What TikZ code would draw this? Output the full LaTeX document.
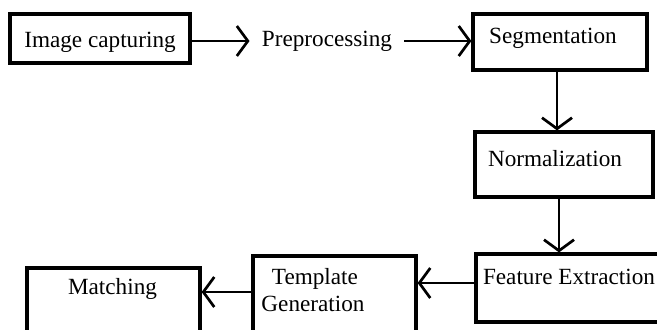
\documentclass[tikz,border=0pt]{standalone}
\usepackage{fontspec}
\setmainfont{Liberation Serif}
\usetikzlibrary{arrows.meta}
\tikzset{
  box/.style={draw, line width=1.6pt, rectangle, inner sep=0pt},
  lbl/.style={inner sep=0pt, font=\fontsize{11.6}{13.6}\selectfont},
  arr/.style={line width=1.35pt, -{Straight Barb[length=5.5pt,width=15pt,line width=1.35pt]}}
}
\begin{document}
\begin{tikzpicture}[x=0.5pt, y=-0.5pt]
  \path[use as bounding box, clip] (0,0) rectangle (657,329);

  % boxes
  \node[box, minimum width=90pt,   minimum height=24.5pt] (cap)   at (100,38.5)  {};
  \node[box, minimum width=87pt,   minimum height=28pt]   (seg)   at (560,42)    {};
  \node[box, minimum width=89pt,   minimum height=32.5pt] (norm)  at (564,164.5) {};
  \node[box, minimum width=102pt,  minimum height=34pt]   (feat)  at (578,288)   {};
  \node[box, minimum width=81.5pt, minimum height=47pt]   (tmpl)  at (334.5,303) {};
  \node[box, minimum width=86.5pt, minimum height=46pt]   (match) at (113.5,314) {};

  % labels
  \node[lbl] (capt)   at (100,42)   {Image capturing};
  \node[lbl, inner xsep=6pt] (pre) at (327,41) {Preprocessing};
  \node[lbl] (segt)   at (553,38)   {Segmentation};
  \node[lbl] (normt)  at (555,159)  {Normalization};
  \node[lbl] (featt)  at (569,277)  {Feature Extraction};
  \node[lbl, align=center] (tmplt) at (313,290) {\,Template\\Generation};
  \node[lbl] (matcht) at (112.5,289) {Matching};

  % connectors
  \draw[arr] (cap.east |- pre) -- (pre.west);
  \draw[arr] (pre.east) -- (seg.west |- pre);
  \draw[arr] ([xshift=-1.5pt]seg.south) -- ([xshift=-1.5pt]seg.south |- norm.north);
  \draw[arr] ([xshift=-2.5pt]norm.south) -- ([xshift=-2.5pt]norm.south |- feat.north);
  \draw[arr] ([yshift=2.5pt]feat.west) -- ([yshift=2.5pt]feat.west -| tmpl.east);
  \draw[arr] ([yshift=5.5pt]tmpl.west) -- ([yshift=5.5pt]tmpl.west -| match.east);
\end{tikzpicture}
\end{document}
